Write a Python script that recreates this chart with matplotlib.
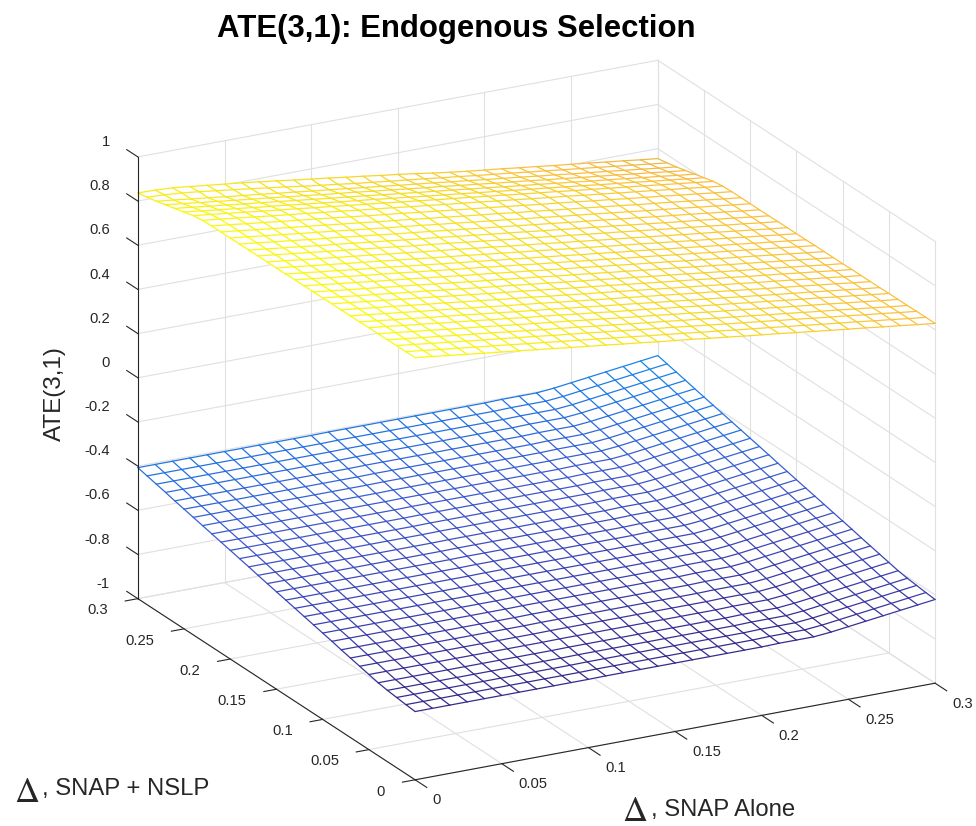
#!/usr/bin/env python3

import numpy as np
import matplotlib
matplotlib.use('Agg')
import matplotlib.pyplot as plt
from matplotlib.colors import LinearSegmentedColormap, Normalize
from mpl_toolkits.mplot3d import proj3d
from mpl_toolkits.mplot3d.art3d import Line3DCollection

plt.rcParams['font.family'] = ['Liberation Sans', 'DejaVu Sans']

# grid of both deltas
delta_grid = [0.00, 0.01, 0.02, 0.03, 0.04, 0.05, 0.06, 0.07, 0.08, 0.09, 0.10,
              0.11, 0.12, 0.13, 0.14, 0.15, 0.16, 0.17, 0.18, 0.19, 0.20,
              0.21, 0.22, 0.23, 0.24, 0.25, 0.26, 0.27, 0.28, 0.29, 0.30]

x_ticks = [0, 0.05, 0.1, 0.15, 0.2, 0.25, 0.3]
x_tick_labels = ['0', '0.05', '0.1', '0.15', '0.2', '0.25', '0.3']
z_ticks = [-1, -0.8, -0.6, -0.4, -0.2, 0, 0.2, 0.4, 0.6, 0.8, 1]
z_tick_labels = ['-1', '-0.8', '-0.6', '-0.4', '-0.2', '0', '0.2', '0.4', '0.6', '0.8', '1']

# ATE values x 1000, one row per SNAP + NSLP delta, one column per SNAP delta
upper_ate = [
    [911,902,892,883,873,864,855,845,836,826,817,808,798,789,779,770,761,751,742,732,723,714,704,695,685,676,667,657,648,638,629],
    [911,902,892,883,873,864,855,845,836,826,817,808,798,789,779,770,761,751,742,732,723,714,704,695,685,676,667,657,648,638,629],
    [911,902,892,883,873,864,855,845,836,826,817,808,798,789,779,770,761,751,742,732,723,714,704,695,685,676,667,657,648,638,629],
    [910,901,891,882,872,863,854,844,835,825,816,807,797,788,778,769,760,750,741,731,722,713,703,694,684,675,666,656,647,637,628],
    [910,901,891,882,872,863,854,844,835,825,816,807,797,788,778,769,760,750,741,731,722,713,703,694,684,675,666,656,647,637,628],
    [910,901,891,882,872,863,854,844,835,825,816,807,797,788,778,769,760,750,741,731,722,713,703,694,684,675,666,656,647,637,628],
    [909,900,890,881,871,862,853,843,834,824,815,806,796,787,777,768,759,749,740,730,721,712,702,693,683,674,665,655,646,636,627],
    [909,900,890,881,871,862,853,843,834,824,815,806,796,787,777,768,759,749,740,730,721,712,702,693,683,674,665,655,646,636,627],
    [909,900,890,881,871,862,853,843,834,824,815,806,796,787,777,768,759,749,740,730,721,712,702,693,683,674,665,655,646,636,627],
    [909,900,890,881,871,862,853,843,834,824,815,806,796,787,777,768,759,749,740,730,721,712,702,693,683,674,665,655,646,636,627],
    [908,899,889,880,870,861,852,842,833,823,814,805,795,786,776,767,758,748,739,729,720,711,701,692,682,673,664,654,645,635,626],
    [908,899,889,880,870,861,852,842,833,823,814,805,795,786,776,767,758,748,739,729,720,711,701,692,682,673,664,654,645,635,626],
    [908,899,889,880,870,861,852,842,833,823,814,805,795,786,776,767,758,748,739,729,720,711,701,692,682,673,664,654,645,635,626],
    [908,899,889,880,870,861,852,842,833,823,814,805,795,786,776,767,758,748,739,729,720,711,701,692,682,673,664,654,645,635,626],
    [907,898,888,879,869,860,851,841,832,822,813,804,794,785,775,766,757,747,738,728,719,710,700,691,681,672,663,653,644,634,625],
    [907,898,888,879,869,860,851,841,832,822,813,804,794,785,775,766,757,747,738,728,719,710,700,691,681,672,663,653,644,634,625],
    [907,898,888,879,869,860,851,841,832,822,813,804,794,785,775,766,757,747,738,728,719,710,700,691,681,672,663,653,644,634,625],
    [907,898,888,879,869,860,851,841,832,822,813,804,794,785,775,766,757,747,738,728,719,710,700,691,681,672,663,653,644,634,625],
    [906,897,887,878,868,859,850,840,831,821,812,803,793,784,774,765,756,746,737,727,718,709,699,690,680,671,662,652,643,633,624],
    [906,897,887,878,868,859,850,840,831,821,812,803,793,784,774,765,756,746,737,727,718,709,699,690,680,671,662,652,643,633,624],
    [906,897,887,878,868,859,850,840,831,821,812,803,793,784,774,765,756,746,737,727,718,709,699,690,680,671,662,652,643,633,624],
    [906,897,887,878,868,859,850,840,831,821,812,803,793,784,774,765,756,746,737,727,718,709,699,690,680,671,662,652,643,633,624],
    [906,897,887,878,868,859,850,840,831,821,812,803,793,784,774,765,756,746,737,727,718,709,699,690,680,671,662,652,643,633,624],
    [904,895,885,876,866,857,848,838,829,819,810,801,791,782,772,763,754,744,735,725,716,707,697,688,678,669,660,650,641,631,622],
    [898,889,879,870,860,851,842,832,823,813,804,795,785,776,766,757,748,738,729,719,710,701,691,682,672,663,654,644,635,625,616],
    [887,878,868,859,849,840,831,821,812,802,793,784,774,765,755,746,737,727,718,708,699,690,680,671,661,652,643,633,624,614,605],
    [876,867,857,848,838,829,820,810,801,791,782,773,763,754,744,735,726,716,707,697,688,679,669,660,650,641,632,622,613,603,594],
    [865,856,846,837,827,818,809,799,790,780,771,762,752,743,733,724,715,705,696,686,677,668,658,649,639,630,621,611,602,592,583],
    [854,845,835,826,816,807,798,788,779,769,760,751,741,732,722,713,704,694,685,675,666,657,647,638,628,619,610,600,591,581,572],
    [845,841,835,826,816,806,796,785,775,763,753,743,732,723,713,704,695,685,676,666,657,648,638,629,619,610,601,591,582,572,563],
    [837,835,831,822,813,804,795,785,775,764,754,744,733,723,712,702,691,679,668,658,649,640,630,621,611,602,593,583,574,564,555],
]

lower_ate = [
    [-691,-691,-691,-691,-691,-691,-691,-691,-691,-691,-691,-690,-690,-690,-690,-690,-690,-690,-690,-690,-690,-688,-688,-688,-681,-671,-661,-651,-641,-631,-621],
    [-687,-687,-687,-687,-687,-687,-687,-687,-687,-687,-687,-686,-686,-686,-686,-686,-686,-686,-686,-686,-686,-684,-684,-684,-677,-667,-657,-647,-637,-627,-617],
    [-682,-682,-682,-682,-682,-682,-682,-682,-682,-682,-682,-681,-681,-681,-681,-681,-681,-681,-681,-681,-681,-679,-679,-679,-672,-662,-652,-642,-632,-622,-612],
    [-677,-677,-677,-677,-677,-677,-677,-677,-677,-677,-677,-676,-676,-676,-676,-676,-676,-676,-676,-676,-676,-674,-674,-674,-667,-657,-647,-637,-627,-617,-607],
    [-670,-670,-670,-670,-670,-670,-670,-670,-670,-670,-670,-669,-669,-669,-669,-669,-669,-669,-669,-669,-669,-667,-667,-667,-660,-650,-640,-630,-620,-610,-600],
    [-660,-660,-660,-660,-660,-660,-660,-660,-660,-660,-660,-659,-659,-659,-659,-659,-659,-659,-659,-659,-659,-657,-657,-657,-650,-640,-630,-620,-610,-600,-590],
    [-650,-650,-650,-650,-650,-650,-650,-650,-650,-650,-650,-649,-649,-649,-649,-649,-649,-649,-649,-649,-649,-647,-647,-647,-640,-630,-620,-610,-600,-590,-580],
    [-640,-640,-640,-640,-640,-640,-640,-640,-640,-640,-640,-639,-639,-639,-639,-639,-639,-639,-639,-639,-639,-637,-637,-637,-630,-620,-610,-600,-590,-580,-570],
    [-630,-630,-630,-630,-630,-630,-630,-630,-630,-630,-630,-629,-629,-629,-629,-629,-629,-629,-629,-629,-629,-627,-627,-627,-620,-610,-600,-590,-580,-570,-560],
    [-619,-619,-619,-619,-619,-619,-619,-619,-619,-619,-619,-618,-618,-618,-618,-618,-618,-618,-618,-618,-618,-616,-616,-616,-609,-599,-589,-579,-569,-559,-549],
    [-609,-609,-609,-609,-609,-609,-609,-609,-609,-609,-609,-608,-608,-608,-608,-608,-608,-608,-608,-608,-608,-606,-606,-606,-599,-589,-579,-569,-559,-549,-539],
    [-599,-599,-599,-599,-599,-599,-599,-599,-599,-599,-599,-598,-598,-598,-598,-598,-598,-598,-598,-598,-598,-596,-596,-596,-589,-579,-569,-559,-549,-539,-529],
    [-589,-589,-589,-589,-589,-589,-589,-589,-589,-589,-589,-588,-588,-588,-588,-588,-588,-588,-588,-588,-588,-586,-586,-586,-579,-569,-559,-549,-539,-529,-519],
    [-579,-579,-579,-579,-579,-579,-579,-579,-579,-579,-579,-578,-578,-578,-578,-578,-578,-578,-578,-578,-578,-576,-576,-576,-569,-559,-549,-539,-529,-519,-509],
    [-569,-569,-569,-569,-569,-569,-569,-569,-569,-569,-569,-568,-568,-568,-568,-568,-568,-568,-568,-568,-568,-566,-566,-566,-559,-549,-539,-529,-519,-509,-499],
    [-559,-559,-559,-559,-559,-559,-559,-559,-559,-559,-559,-558,-558,-558,-558,-558,-558,-558,-558,-558,-558,-556,-556,-556,-549,-539,-529,-519,-509,-499,-489],
    [-549,-549,-549,-549,-549,-549,-549,-549,-549,-549,-549,-548,-548,-548,-548,-548,-548,-548,-548,-548,-548,-546,-546,-546,-539,-529,-519,-509,-499,-489,-479],
    [-539,-539,-539,-539,-539,-539,-539,-539,-539,-539,-539,-538,-538,-538,-538,-538,-538,-538,-538,-538,-538,-536,-536,-536,-529,-519,-509,-499,-489,-479,-469],
    [-528,-528,-528,-528,-528,-528,-528,-528,-528,-528,-528,-527,-527,-527,-527,-527,-527,-527,-527,-527,-527,-525,-525,-525,-518,-508,-498,-488,-478,-468,-458],
    [-518,-518,-518,-518,-518,-518,-518,-518,-518,-518,-518,-517,-517,-517,-517,-517,-517,-517,-517,-517,-517,-515,-515,-515,-508,-498,-488,-478,-468,-458,-448],
    [-508,-508,-508,-508,-508,-508,-508,-508,-508,-508,-508,-507,-507,-507,-507,-507,-507,-507,-507,-507,-507,-505,-505,-505,-498,-488,-478,-468,-458,-448,-438],
    [-498,-498,-498,-498,-498,-498,-498,-498,-498,-498,-498,-497,-497,-497,-497,-497,-497,-497,-497,-497,-497,-495,-495,-495,-488,-478,-468,-458,-448,-438,-428],
    [-488,-488,-488,-488,-488,-488,-488,-488,-488,-488,-488,-487,-487,-487,-487,-487,-487,-487,-487,-487,-487,-485,-485,-485,-478,-468,-458,-448,-438,-428,-418],
    [-478,-478,-478,-478,-478,-478,-478,-478,-478,-478,-478,-477,-477,-477,-477,-477,-477,-477,-477,-477,-477,-475,-475,-475,-468,-458,-448,-438,-428,-418,-408],
    [-468,-468,-468,-468,-468,-468,-468,-468,-468,-468,-468,-467,-467,-467,-467,-467,-467,-467,-467,-467,-467,-465,-465,-465,-458,-448,-438,-428,-418,-408,-398],
    [-458,-458,-458,-458,-458,-458,-458,-458,-458,-458,-458,-457,-457,-457,-457,-457,-457,-457,-457,-457,-457,-455,-455,-455,-448,-438,-428,-418,-408,-398,-388],
    [-448,-448,-448,-448,-448,-448,-448,-448,-448,-448,-448,-447,-447,-447,-447,-447,-447,-447,-447,-447,-447,-445,-445,-445,-438,-428,-418,-408,-398,-388,-378],
    [-437,-437,-437,-437,-437,-437,-437,-437,-437,-437,-437,-436,-436,-436,-436,-436,-436,-436,-436,-436,-436,-434,-434,-434,-427,-417,-407,-397,-387,-377,-367],
    [-427,-427,-427,-427,-427,-427,-427,-427,-427,-427,-427,-426,-426,-426,-426,-426,-426,-426,-426,-426,-426,-424,-424,-424,-417,-407,-397,-387,-377,-367,-357],
    [-417,-417,-417,-417,-417,-417,-417,-417,-417,-417,-417,-416,-416,-416,-416,-416,-416,-416,-416,-416,-416,-414,-414,-414,-407,-397,-387,-377,-367,-357,-347],
    [-407,-407,-407,-407,-407,-407,-407,-407,-407,-407,-407,-406,-406,-406,-406,-406,-406,-406,-406,-406,-406,-404,-404,-404,-397,-387,-377,-367,-357,-347,-337],
]

parula = LinearSegmentedColormap.from_list('parula', [
    (0.0, (0.2100, 0.1700, 0.5500)),
    (0.05, (0.2300, 0.2500, 0.6800)),
    (0.12, (0.2500, 0.3500, 0.8000)),
    (0.18, (0.1200, 0.4700, 0.9000)),
    (0.25, (0.0800, 0.5900, 0.9200)),
    (0.375, (0.0300, 0.7000, 0.8000)),
    (0.5, (0.2100, 0.7200, 0.6200)),
    (0.625, (0.5000, 0.7500, 0.4000)),
    (0.75, (0.8500, 0.7200, 0.3200)),
    (0.8125, (0.9856, 0.7372, 0.2537)),
    (0.9, (0.9600, 0.8600, 0.1500)),
    (1.0, (0.9763, 0.9831, 0.0538)),
])

axis_color = (0.15, 0.15, 0.15)
grid_color = (0.88, 0.88, 0.88)
W, H = 976, 826

fig = plt.figure(figsize=(W / 100, H / 100), dpi=100)

# square axes, size worked out so the box lands where it is in the picture
size = 929.4
ax = fig.add_axes([59.2 / W, -71.3 / H, size / W, size / H],
                  projection='3d', computed_zorder=False)
ax.set_proj_type('ortho')
ax.view_init(elev=20.39, azim=-118.07)
ax.set_box_aspect((589.3, 589.3, 471.3))
ax.set_xlim(0, 0.3, view_margin=0)
ax.set_ylim(0, 0.3, view_margin=0)
ax.set_zlim(-1, 1, view_margin=0)
ax.set_axis_off()
proj = ax.get_proj()


def grid_line(xs, ys, zs):
    ax.plot(xs, ys, zs, color=grid_color, lw=0.8, zorder=1)


def dark_line(xs, ys, zs):
    ax.plot(xs, ys, zs, color=axis_color, lw=0.8, zorder=5)


def tick_text(x, y, z, label, ha):
    # text sits at the projected spot of a data point
    x2, y2, _ = proj3d.proj_transform(x, y, z, proj)
    ax.text2D(x2, y2, label, transform=ax.transData, ha=ha, va='center',
              fontsize=10.6, color=axis_color)


# the walls and the floor
for t in x_ticks:
    grid_line([t, t], [0.3, 0.3], [-1, 1])
    grid_line([0.3, 0.3], [t, t], [-1, 1])
    grid_line([t, t], [0, 0.3], [-1, -1])
    grid_line([0, 0.3], [t, t], [-1, -1])
for t in z_ticks:
    grid_line([0, 0.3], [0.3, 0.3], [t, t])
    grid_line([0.3, 0.3], [0, 0.3], [t, t])

# the two meshes: white faces hide the grid behind them, lines go on top
X, Y = np.meshgrid(delta_grid, delta_grid)
norm = Normalize(-0.691, 0.911)
for i, values in enumerate([lower_ate, upper_ate]):
    Z = np.array(values) / 1000
    ax.plot_surface(X, Y, Z, rstride=1, cstride=1, color='white', shade=False,
                    linewidth=0, antialiased=False, zorder=2)
    P = np.stack([X, Y, Z], axis=-1)
    segs = np.concatenate([
        np.stack([P[:-1, :], P[1:, :]], axis=2).reshape(-1, 2, 3),
        np.stack([P[:, :-1], P[:, 1:]], axis=2).reshape(-1, 2, 3),
    ])
    seg_z = segs[:, :, 2].mean(axis=1)
    mesh = Line3DCollection(segs, colors=parula(norm(seg_z)), linewidths=0.9, zorder=3,
                            capstyle='round')
    mesh.set_snap(False)
    ax.add_collection3d(mesh)

# axis lines and ticks
dark_line([0, 0.3], [0, 0], [-1, -1])
dark_line([0, 0], [0, 0.3], [-1, -1])
dark_line([0, 0], [0.3, 0.3], [-1, 1])

for t, label in zip(x_ticks, x_tick_labels):
    dark_line([t, t], [0, -0.0126], [-1, -1])
    tick_text(t, -0.0184, -1.042, label, 'left')
    dark_line([0, -0.0073], [t, t], [-1, -1])
    tick_text(-0.0173, t, -1.028, label, 'right')
for t, label in zip(z_ticks, z_tick_labels):
    dark_line([0, 0], [0.3, 0.312], [t, t])
    tick_text(0, 0.3303, t - 0.0154, label, 'right')

# title and labels, placed in pixels of the figure
fig.text(456 / W, 1 - 29.5 / H, 'ATE(3,1): Endogenous Selection', ha='center', va='center',
         fontsize=22.4, fontweight='bold', color='black')
fig.text(54.5 / W, 1 - 394 / H, 'ATE(3,1)', rotation=90, ha='center', va='center',
         fontsize=17.5, color=axis_color)

fig.text(13.5 / W, 1 - 801.5 / H, r'$\Delta$', math_fontfamily='stix', ha='left', va='baseline',
         fontsize=25, color=axis_color)
fig.text(42 / W, 1 - 795 / H, ', SNAP + NSLP', ha='left', va='baseline',
         fontsize=17.2, color=axis_color)
fig.text(622.5 / W, 1 - 821 / H, r'$\Delta$', math_fontfamily='stix', ha='left', va='baseline',
         fontsize=25, color=axis_color)
fig.text(651 / W, 1 - 815.7 / H, ', SNAP Alone', ha='left', va='baseline',
         fontsize=17.2, color=axis_color)

fig.savefig('out.png', dpi=100)
